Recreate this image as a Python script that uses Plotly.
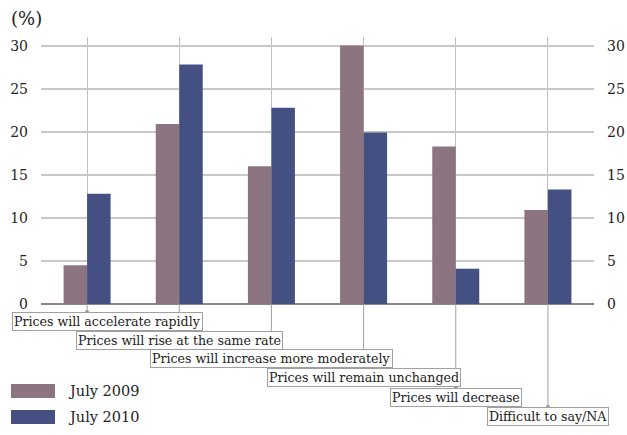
import plotly.graph_objects as go

categories = [
    "Prices will accelerate rapidly",
    "Prices will rise at the same rate",
    "Prices will increase more moderately",
    "Prices will remain unchanged",
    "Prices will decrease",
    "Difficult to say/NA",
]
series_names = ["July 2009", "July 2010"]
july_2009 = [4.5, 20.9, 16.0, 30.0, 18.3, 10.9]
july_2010 = [12.8, 27.8, 22.8, 19.9, 4.1, 13.3]
tick_vals = [0, 5, 10, 15, 20, 25, 30]
colors = ["#8c7480", "#445082"]

FONT = "DejaVu Serif"
W, H = 627, 435
ML, MR, MT, MB = 41, 33, 37, 131
plot_h = H - MT - MB
plot_w = W - ML - MR
Y0 = H - MB
X0 = ML

def py(px):
    return (Y0 - px) / plot_h

def px_x(px):
    return (px - X0) / plot_w

fig = go.Figure()
for name, vals, col in zip(series_names, [july_2009, july_2010], colors):
    fig.add_trace(go.Bar(x=list(range(len(categories))), y=vals, name=name,
                         marker=dict(color=col, line=dict(width=0)),
                         showlegend=False, yaxis="y"))
fig.add_trace(go.Scatter(x=[0], y=[0], yaxis="y2", mode="markers",
                         marker=dict(opacity=0), showlegend=False, hoverinfo="skip"))

shapes = []
annotations = []
label_tops = [312, 331, 349, 368, 388, 407]
for i, (cat, top) in enumerate(zip(categories, label_tops)):
    yt = py(top)
    shapes.append(dict(type="line", xref="x", yref="paper", x0=i, x1=i, y0=0, y1=yt,
                       line=dict(color="#a0a0a0", width=1)))
    shapes.append(dict(type="circle", xref="x", yref="paper", xsizemode="pixel",
                       ysizemode="pixel", xanchor=i, yanchor=yt, x0=-2, x1=2, y0=-2, y1=2,
                       fillcolor="#999999", line=dict(width=0)))
    ann = dict(text=cat, xref="x", yref="paper", x=i, y=yt, yanchor="top",
               xanchor="center", showarrow=False, bordercolor="#a0a0a0", borderwidth=1,
               borderpad=1, bgcolor="white", font=dict(family=FONT, size=12.6, color="#222"))
    if i == 0:
        ann["xanchor"] = "left"
        ann["xshift"] = -75
    annotations.append(ann)

leg_tops = [384, 410]
for name, col, top in zip(series_names, colors, leg_tops):
    shapes.append(dict(type="rect", xref="paper", yref="paper", x0=px_x(11), x1=px_x(55),
                       y0=py(top), y1=py(top + 14), fillcolor=col, line=dict(width=0)))
    annotations.append(dict(text=name, xref="paper", yref="paper", x=px_x(66),
                            y=py(top + 7), xanchor="left", yanchor="middle", showarrow=False,
                            font=dict(family=FONT, size=14.5, color="#222")))

annotations.append(dict(text="(%)", xref="paper", yref="paper", x=px_x(9), y=py(18),
                        xanchor="left", yanchor="middle", showarrow=False,
                        font=dict(family=FONT, size=18, color="#222")))

axis_font = dict(family=FONT, size=14, color="#222")
fig.update_layout(
    width=W, height=H,
    margin=dict(l=ML, r=MR, t=MT, b=MB, autoexpand=False),
    paper_bgcolor="white", plot_bgcolor="white",
    barmode="group", bargap=0.49, bargroupgap=0,
    xaxis=dict(range=[-0.5, len(categories) - 0.5], showticklabels=False, ticks="",
               showgrid=True, gridcolor="#c0c0c0", gridwidth=1, zeroline=False,
               tickvals=list(range(len(categories))), showline=False),
    yaxis=dict(range=[0, 31], tickvals=tick_vals, showgrid=True, gridcolor="#c8c8c8",
               gridwidth=1.5, zeroline=True, zerolinecolor="#888", zerolinewidth=1.5,
               tickfont=axis_font, ticks="", ticklabelstandoff=12, showline=False,
               automargin=False),
    yaxis2=dict(range=[0, 31], tickvals=tick_vals, overlaying="y", side="right",
                showgrid=False, zeroline=False, tickfont=axis_font, ticks="",
                ticklabelstandoff=12, showline=False, automargin=False),
    shapes=shapes, annotations=annotations,
)
fig.write_html("out.html", config={"displayModeBar": False},
               post_script="document.body.style.margin='0px';")
